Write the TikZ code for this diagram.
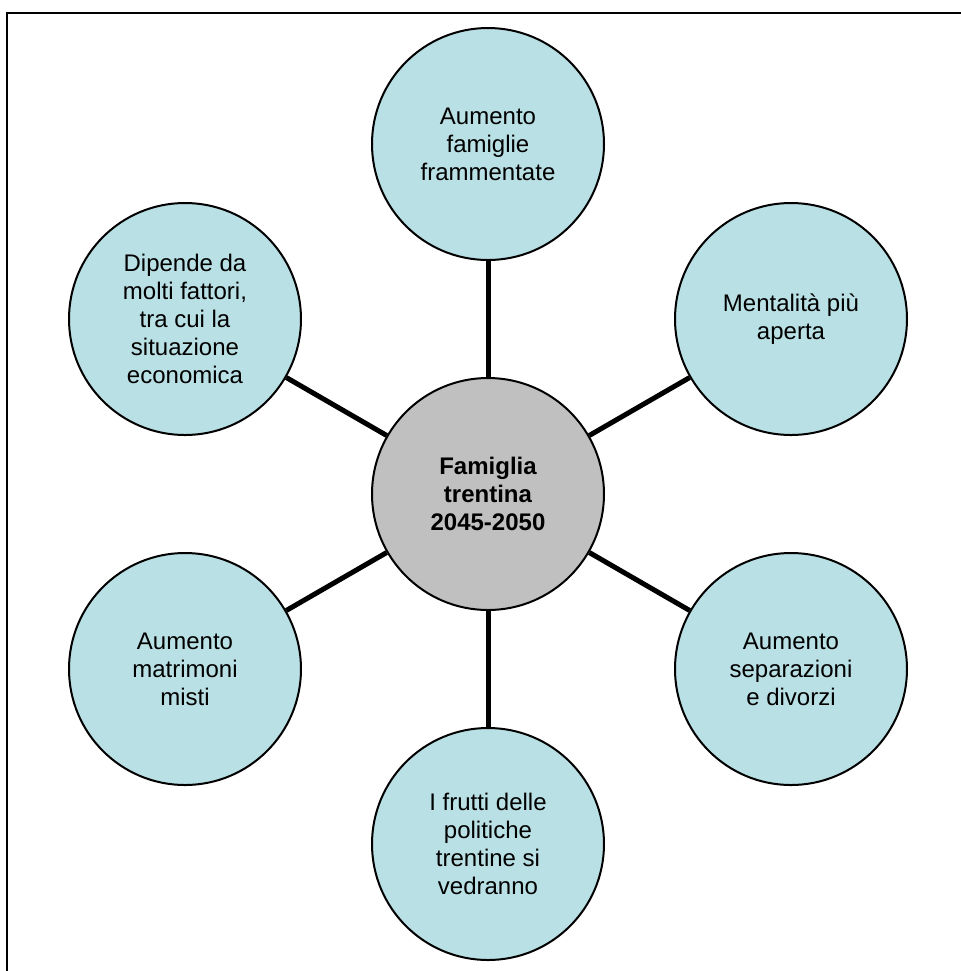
\documentclass[tikz,border=0pt]{standalone}
\usepackage{fontspec}
\setmainfont{Liberation Sans}
\usepackage{tikz}
\usetikzlibrary{positioning}

\definecolor{ideablue}{RGB}{185,224,228}
\definecolor{coregray}{RGB}{192,192,192}

\begin{document}
\begin{tikzpicture}[x=0.5pt,y=-0.5pt,
    idea/.style={circle,draw,fill=ideablue,line width=1pt,minimum size={116pt},inner sep=2pt,align=center,font=\fontsize{12}{14}\selectfont},
    core/.style={idea,fill=coregray,font=\fontsize{12}{14}\selectfont\bfseries},
    spoke/.style={line width=2.5pt}]
    \useasboundingbox (0,0) rectangle (961,971);
    \draw [line width=1.2pt] (961,13) -- (7,13) -- (7,971);
    \node (fam) at (488,494) [core] {Famiglia\\trentina\\2045-2050};
    \node (fr) at (488,144) [idea] {Aumento\\famiglie\\frammentate};
    \node (me) at (791,319) [idea] {Mentalità più\\aperta};
    \node (se) at (791,669) [idea] {Aumento\\separazioni\\e divorzi};
    \node (po) at (488,844) [idea] {I frutti delle\\politiche\\trentine si\\vedranno};
    \node (ma) at (185,669) [idea] {Aumento\\matrimoni\\misti};
    \node (di) at (185,319) [idea] {Dipende da\\molti fattori,\\tra cui la\\situazione\\economica};
    \foreach \n in {fr,me,se,po,ma,di}
      \draw [spoke] (fam) -- (\n);
\end{tikzpicture}
\end{document}
